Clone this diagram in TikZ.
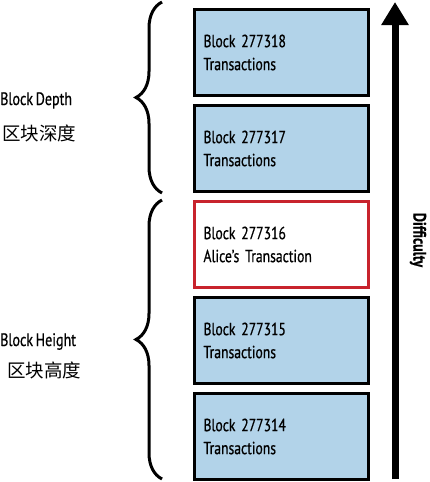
\documentclass[tikz,border=0pt]{standalone}
\usepackage{fontspec}
\setmainfont{PT Sans}[FakeStretch=0.78, FakeBold=0.6, WordSpace=0.7]
\newfontfamily\cjk{Noto Sans CJK SC}
\usepackage{tikz}
\usetikzlibrary{positioning, arrows.meta, decorations.pathreplacing}
\definecolor{blockblue}{RGB}{178,211,233}
\definecolor{alicered}{RGB}{200,35,45}
\tikzstyle{block} = [ rectangle, draw, line width=3pt, fill=blockblue, minimum width=174pt, minimum height=86pt, text width=156pt, align=left, inner sep=0pt, font=\fontsize{17.5}{23}\selectfont ]
\tikzstyle{brace} = [ draw, line width=3pt, decorate, decoration={brace, amplitude=26pt} ]
\tikzstyle{sidetext} = [ inner sep=0pt, anchor=base west, font=\fontsize{18}{20}\selectfont ]
\tikzstyle{cjktext} = [ inner sep=0pt, anchor=base west, font=\cjk\fontsize{18.5}{20}\selectfont ]

\begin{document}
\begin{tikzpicture}[x=1pt, y=-1pt]
\useasboundingbox (0,0) rectangle (429,482);

% the chain of blocks
\node [block] (b18) at (281.5, 52.5) {Block 277318\\Transactions};
\node [block, below=7pt of b18] (b17) {Block 277317\\Transactions};
\node [block, below=7pt of b17, draw=alicered, fill=white] (b16) {Block 277316\\Alice’s Transaction};
\node [block, below=7pt of b16] (b15) {Block 277315\\Transactions};
\node [block, below=7pt of b15] (b14) {Block 277314\\Transactions};

% depth and height
\coordinate (depthtop) at (162, 2);
\coordinate (depthbot) at (162, 193);
\coordinate (heighttop) at (162, 200);
\coordinate (heightbot) at (162, 479);
\path [brace] (depthbot) -- (depthtop);
\path [brace] (heightbot) -- (heighttop);
\node [sidetext] (depth) at (0, 105) {Block Depth};
\node [cjktext] (depthcn) at (2, 140) {区块深度};
\node [sidetext] (height) at (0, 346) {Block Height};
\node [cjktext] (heightcn) at (7, 377) {区块高度};

% difficulty arrow
\coordinate (easy) at (395, 479);
\coordinate (hard) at (395, 2);
\draw [line width=7pt, -{Triangle[length=23pt, width=26pt]}] (easy) -- (hard);
\node [rotate=-90, inner sep=0pt, font=\bfseries\fontsize{18}{20}\selectfont] (diff) at (418, 240) {Difficulty};
\end{tikzpicture}
\end{document}
